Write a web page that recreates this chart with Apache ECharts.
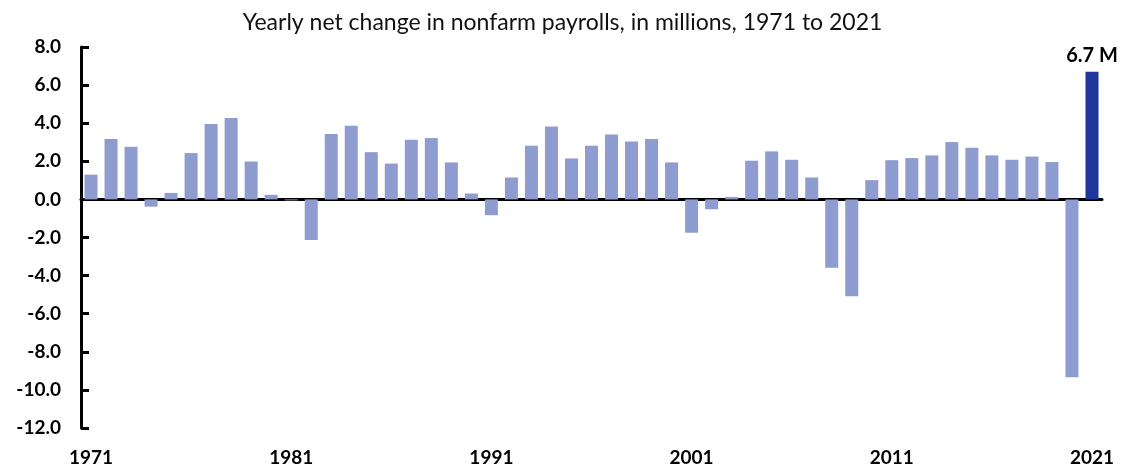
<!DOCTYPE html>
<html>
<head>
<meta charset="utf-8">
<script src="https://cdn.jsdelivr.net/npm/echarts@6/dist/echarts.min.js"></script>
<style>
  html, body { margin: 0; padding: 0; background: #fff; }
  #chart { width: 1125px; height: 470px; }
</style>
</head>
<body>
<div id="chart"></div>
<script>
// years 1971 to 2021
const years = [];
for (let y = 1971; y <= 2021; y++) years.push(String(y));

// yearly net change in nonfarm payrolls, millions
const changes = [
  1.3, 3.17, 2.76, -0.38, 0.34, 2.43, 3.96, 4.27, 1.99, 0.24,
  -0.05, -2.13, 3.43, 3.87, 2.48, 1.88, 3.13, 3.22, 1.94, 0.31,
  -0.83, 1.15, 2.82, 3.83, 2.15, 2.82, 3.41, 3.04, 3.17, 1.94,
  -1.75, -0.52, 0.13, 2.03, 2.52, 2.08, 1.15, -3.59, -5.08, 1.01,
  2.06, 2.17, 2.31, 3.01, 2.71, 2.31, 2.08, 2.25, 1.96, -9.34,
  6.7
];

const yTicks = { min: -12, max: 8, step: 2 };

const lightBlue = '#8f9ccf';
const darkBlue = '#1f3799';
const fontFamily = 'Lato, "Open Sans", sans-serif';

const chart = echarts.init(document.getElementById('chart'));

const barData = changes.map((v, i) => {
  if (i === changes.length - 1) {
    return {
      value: v,
      itemStyle: { color: darkBlue },
      label: {
        show: true,
        position: 'top',
        distance: 6,
        formatter: v.toFixed(1) + ' M',
        color: '#000',
        fontWeight: 'bold',
        fontSize: 20,
        fontFamily: fontFamily
      }
    };
  }
  return v;
});

chart.setOption({
  animation: false,
  title: {
    text: 'Yearly net change in nonfarm payrolls, in millions, 1971 to 2021',
    left: 'center',
    top: 6,
    textStyle: {
      fontFamily: fontFamily,
      fontWeight: 'normal',
      fontSize: 23,
      color: '#111'
    }
  },
  grid: {
    left: 81,
    right: 23,
    top: 47,
    bottom: 42,
    outerBoundsMode: 'none'
  },
  xAxis: [
    {
      // zero line
      type: 'category',
      data: years,
      axisLine: { onZero: true, lineStyle: { color: '#000', width: 3 } },
      axisTick: { show: false },
      axisLabel: { show: false },
      splitLine: { show: false }
    },
    {
      // year labels at the bottom
      type: 'category',
      data: years,
      position: 'bottom',
      axisLine: { show: false, onZero: false },
      axisTick: { show: false },
      axisLabel: {
        interval: 9,
        margin: 20,
        color: '#000',
        fontWeight: 'bold',
        fontSize: 19,
        fontFamily: fontFamily
      },
      splitLine: { show: false }
    }
  ],
  yAxis: {
    type: 'value',
    min: yTicks.min,
    max: yTicks.max,
    interval: yTicks.step,
    axisLine: { show: true, lineStyle: { color: '#000', width: 3 } },
    axisTick: { show: true, inside: true, length: 8, lineStyle: { color: '#000', width: 3 } },
    splitLine: { show: false },
    axisLabel: {
      margin: 20,
      color: '#000',
      fontWeight: 'bold',
      fontSize: 19,
      fontFamily: fontFamily,
      formatter: v => v.toFixed(1)
    }
  },
  series: [
    {
      type: 'bar',
      xAxisIndex: 0,
      data: barData,
      barWidth: '65%',
      itemStyle: { color: lightBlue }
    }
  ]
});

window.addEventListener('resize', () => chart.resize());
</script>
</body>
</html>
